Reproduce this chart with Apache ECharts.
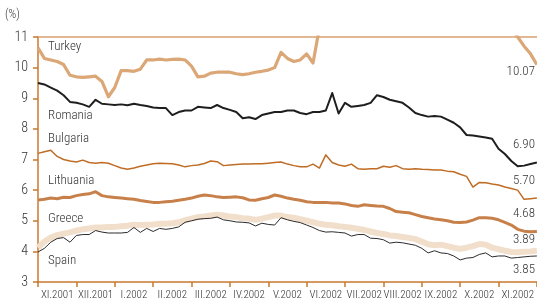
<!DOCTYPE html>
<html>
<head>
<meta charset="utf-8">
<script src="https://cdn.jsdelivr.net/npm/echarts@6/dist/echarts.min.js"></script>
<style>
  html, body { margin: 0; padding: 0; background: #fff; }
  #chart { width: 537px; height: 304px; }
</style>
</head>
<body>
<div id="chart"></div>
<script>
'use strict';

// month labels under the x axis
var months = ['XI.2001', 'XII.2001', 'I.2002', 'II.2002', 'III.2002', 'IV.2002',
  'V.2002', 'VI.2002', 'VII.2002', 'VIII.2002', 'IX.2002', 'X.2002', 'XI.2002'];

// yields, one reading every 1/6 month from the start of XI.2001 (79 points)
var turkey = [10.65, 10.3, 10.25, 10.2, 10.1, 9.75, 9.7, 9.68, 9.7, 9.72,
  9.55, 9.05, 9.35, 9.9, 9.9, 9.88, 9.95, 10.25, 10.25, 10.28,
  10.25, 10.27, 10.28, 10.25, 10.05, 9.7, 9.72, 9.82, 9.85, 9.85,
  9.85, 9.8, 9.77, 9.8, 9.85, 9.88, 9.92, 10.0, 10.5, 10.3,
  10.2, 10.25, 10.45, 10.15, 11.3, 11.3, 11.3, 11.3, 11.3, 11.3,
  11.3, 11.3, 11.3, 11.3, 11.3, 11.3, 11.3, 11.3, 11.3, 11.3,
  11.3, 11.3, 11.3, 11.3, 11.3, 11.3, 11.3, 11.3, 11.3, 11.3,
  11.3, 11.3, 11.3, 11.3, 11.3, 11.0, 10.7, 10.45, 10.1];

var romania = [9.5, 9.45, 9.35, 9.25, 9.1, 8.88, 8.85, 8.8, 8.72, 8.95,
  8.82, 8.8, 8.78, 8.8, 8.77, 8.82, 8.78, 8.75, 8.7, 8.68,
  8.68, 8.45, 8.55, 8.6, 8.6, 8.72, 8.7, 8.68, 8.78, 8.68,
  8.62, 8.55, 8.35, 8.38, 8.32, 8.45, 8.5, 8.55, 8.55, 8.6,
  8.6, 8.52, 8.48, 8.55, 8.55, 8.6, 9.17, 8.5, 8.85, 8.72,
  8.75, 8.78, 8.85, 9.1, 9.04, 8.95, 8.9, 8.85, 8.7, 8.52,
  8.45, 8.4, 8.42, 8.4, 8.3, 8.2, 8.05, 7.8, 7.78, 7.75,
  7.72, 7.68, 7.35, 7.18, 6.95, 6.78, 6.8, 6.85, 6.9];

var bulgaria = [7.2, 7.25, 7.3, 7.1, 7.0, 6.95, 6.92, 6.98, 6.9, 6.88,
  6.9, 6.88, 6.8, 6.72, 6.68, 6.72, 6.78, 6.82, 6.86, 6.88,
  6.87, 6.86, 6.82, 6.76, 6.8, 6.82, 6.87, 6.95, 6.93, 6.8,
  6.82, 6.84, 6.85, 6.85, 6.86, 6.86, 6.88, 6.9, 6.92, 6.85,
  6.8, 6.76, 6.76, 6.85, 6.72, 7.15, 6.9, 6.82, 6.78, 6.85,
  6.7, 6.68, 6.7, 6.7, 6.78, 6.75, 6.8, 6.7, 6.68, 6.7,
  6.68, 6.67, 6.66, 6.66, 6.62, 6.6, 6.52, 6.45, 6.1, 6.25,
  6.24, 6.2, 6.17, 6.1, 6.05, 6.0, 5.7, 5.72, 5.74];

var lithuania = [5.68, 5.7, 5.74, 5.72, 5.77, 5.76, 5.82, 5.86, 5.88, 5.95,
  5.82, 5.78, 5.76, 5.74, 5.72, 5.7, 5.66, 5.63, 5.6, 5.6,
  5.62, 5.64, 5.67, 5.7, 5.74, 5.8, 5.84, 5.82, 5.78, 5.76,
  5.77, 5.78, 5.75, 5.68, 5.67, 5.72, 5.76, 5.84, 5.8, 5.74,
  5.7, 5.67, 5.62, 5.6, 5.6, 5.6, 5.58, 5.58, 5.55, 5.5,
  5.47, 5.52, 5.5, 5.48, 5.47, 5.4, 5.3, 5.28, 5.26, 5.2,
  5.14, 5.1, 5.06, 5.03, 5.0, 4.95, 4.94, 4.96, 5.02, 5.1,
  5.1, 5.08, 5.03, 4.95, 4.86, 4.72, 4.66, 4.64, 4.65];

var greece = [4.12, 4.32, 4.45, 4.53, 4.58, 4.62, 4.68, 4.72, 4.75, 4.78,
  4.78, 4.8, 4.8, 4.82, 4.84, 4.87, 4.86, 4.87, 4.88, 4.9,
  4.9, 4.92, 4.95, 5.02, 5.07, 5.12, 5.14, 5.17, 5.2, 5.17,
  5.14, 5.12, 5.08, 5.07, 5.03, 5.07, 5.12, 5.17, 5.17, 5.12,
  5.1, 5.05, 5.0, 4.95, 4.9, 4.87, 4.85, 4.82, 4.8, 4.77,
  4.74, 4.7, 4.65, 4.6, 4.57, 4.52, 4.5, 4.47, 4.44, 4.4,
  4.32, 4.23, 4.2, 4.22, 4.17, 4.12, 4.08, 4.12, 4.17, 4.24,
  4.22, 4.12, 4.07, 4.02, 3.98, 3.97, 3.99, 4.0, 4.02];

var spain = [3.98, 4.1, 4.3, 4.42, 4.45, 4.3, 4.52, 4.55, 4.55, 4.68,
  4.63, 4.6, 4.6, 4.6, 4.62, 4.78, 4.62, 4.75, 4.65, 4.75,
  4.72, 4.75, 4.8, 4.95, 5.0, 5.05, 5.07, 5.08, 5.12, 5.03,
  5.0, 4.96, 4.95, 4.93, 4.83, 4.92, 4.88, 4.86, 5.1, 5.03,
  4.98, 4.94, 4.86, 4.78, 4.68, 4.63, 4.64, 4.62, 4.6, 4.5,
  4.55, 4.55, 4.43, 4.42, 4.38, 4.27, 4.3, 4.28, 4.24, 4.2,
  4.1, 3.95, 4.02, 3.95, 3.93, 3.85, 3.72, 3.78, 3.8, 3.9,
  3.95, 3.82, 3.85, 3.85, 3.78, 3.8, 3.82, 3.84, 3.85];

// names written inside the plot, and the latest values at the right edge
var names = ['Turkey', 'Romania', 'Bulgaria', 'Lithuania', 'Greece', 'Spain'];
var lastValues = ['10.07', '6.90', '5.70', '4.68', '3.89', '3.85'];

var FONT = "'Roboto Condensed', sans-serif";
var AXIS_COLOR = '#c8782e';

function points(values) {
  return values.map(function(v, i) { return [i, v]; });
}

function lineSeries(name, values, color, width) {
  return {
    name: name,
    type: 'line',
    xAxisIndex: 1,
    data: points(values),
    showSymbol: false,
    symbol: 'none',
    clip: true,
    lineStyle: { color: color, width: width, join: 'round' },
    z: 2
  };
}

var nameTops = [40, 109, 132, 174, 212, 254];
var valueTops = [65, 138, 174, 207, 233, 263];

var graphics = [{
  type: 'text', left: 5, top: 9,
  style: { text: '(%)', font: '300 12px ' + FONT, fill: '#333' }
}];
names.forEach(function(n, k) {
  graphics.push({
    type: 'text', left: 48, top: nameTops[k],
    style: { text: n, font: '300 13px ' + FONT, fill: '#333' }
  });
});
lastValues.forEach(function(v, k) {
  graphics.push({
    type: 'text', right: 2, top: valueTops[k],
    style: { text: v, font: '300 13px ' + FONT, fill: '#333' }
  });
});

var chart = echarts.init(document.getElementById('chart'), null, { renderer: 'canvas' });
chart.setOption({
  animation: false,
  backgroundColor: '#fff',
  grid: { left: 38, right: 0, top: 37, bottom: 22, containLabel: false },
  xAxis: [{
    type: 'category',
    data: months,
    position: 'bottom',
    boundaryGap: true,
    axisLine: { lineStyle: { color: AXIS_COLOR, width: 1.5 } },
    axisTick: { show: true, length: 5, lineStyle: { color: AXIS_COLOR, width: 1.5 } },
    axisLabel: { color: '#333', fontSize: 11, fontWeight: 300, fontFamily: FONT, margin: 8, interval: 0 },
    splitLine: { show: false }
  }, {
    type: 'value',
    min: 0,
    max: months.length * 6,
    position: 'top',
    axisLine: { show: true, onZero: false, lineStyle: { color: '#d9a070', width: 1.5 } },
    axisTick: { show: false },
    axisLabel: { show: false },
    splitLine: { show: false }
  }],
  yAxis: {
    type: 'value',
    min: 3,
    max: 11,
    interval: 1,
    axisLine: { show: true, lineStyle: { color: AXIS_COLOR, width: 1.5 } },
    axisTick: { show: true, length: 5, lineStyle: { color: AXIS_COLOR, width: 1.5 } },
    axisLabel: { color: '#333', fontSize: 14, fontWeight: 300, fontFamily: FONT, margin: 10 },
    splitLine: { show: false }
  },
  series: [
    lineSeries('Greece', greece, '#f1dfcb', 6),
    lineSeries('Spain', spain, '#2b2b2b', 1),
    lineSeries('Lithuania', lithuania, '#c8804a', 3),
    lineSeries('Bulgaria', bulgaria, '#bf6c25', 1.5),
    lineSeries('Romania', romania, '#1e1e1e', 2),
    lineSeries('Turkey', turkey, '#dba777', 3.2)
  ],
  graphic: graphics
});
</script>
</body>
</html>
